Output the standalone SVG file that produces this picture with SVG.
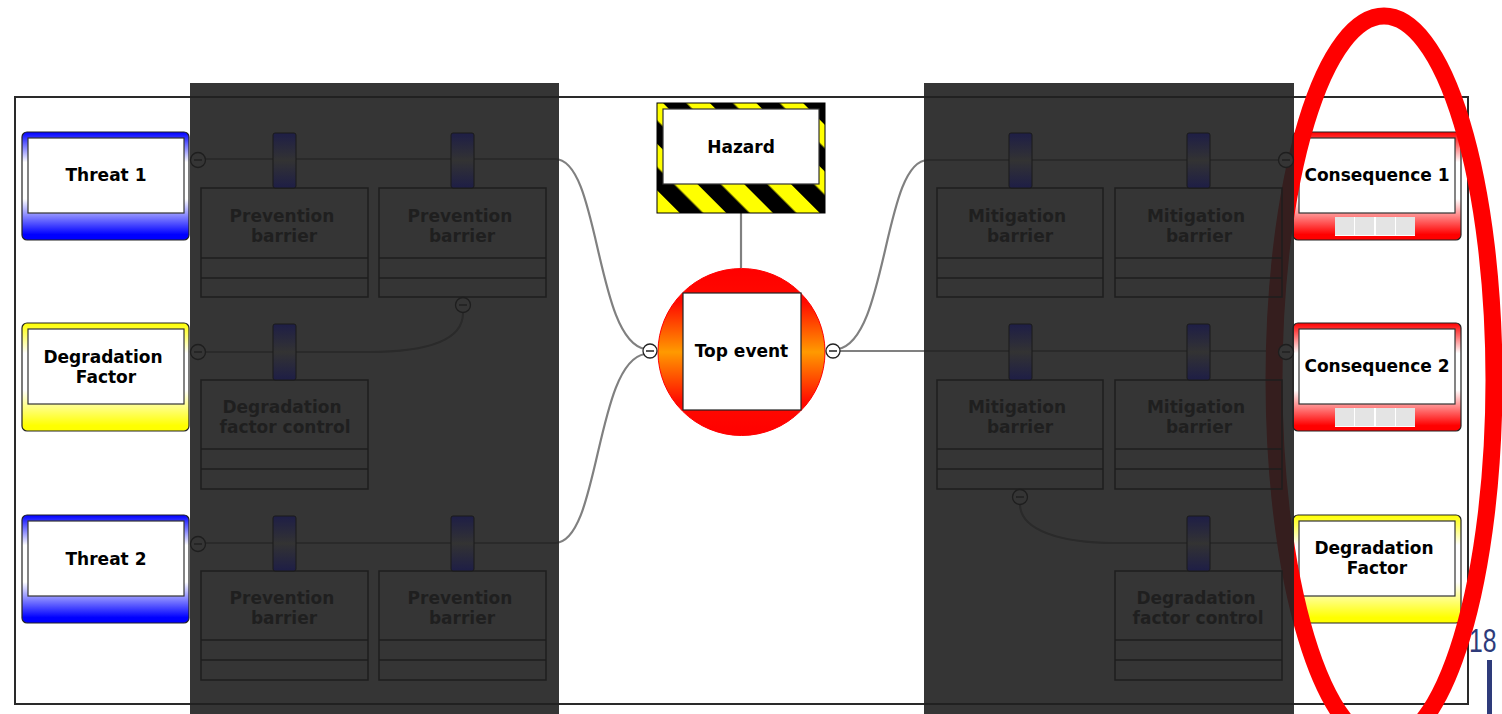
<svg xmlns="http://www.w3.org/2000/svg" width="1502" height="714" viewBox="0 0 1502 714">
<defs>
<linearGradient id="gBlue" x1="0" y1="0" x2="0" y2="1">
<stop offset="0" stop-color="#0000ff"/><stop offset="0.28" stop-color="#ffffff"/><stop offset="0.62" stop-color="#ffffff"/><stop offset="0.95" stop-color="#0000ff"/><stop offset="1" stop-color="#0000ff"/>
</linearGradient>
<linearGradient id="gYellow" x1="0" y1="0" x2="0" y2="1">
<stop offset="0" stop-color="#ffff00"/><stop offset="0.28" stop-color="#ffffff"/><stop offset="0.62" stop-color="#ffffff"/><stop offset="0.95" stop-color="#ffff00"/><stop offset="1" stop-color="#ffff00"/>
</linearGradient>
<linearGradient id="gRed" x1="0" y1="0" x2="0" y2="1">
<stop offset="0" stop-color="#ff0000"/><stop offset="0.28" stop-color="#ffffff"/><stop offset="0.62" stop-color="#ffffff"/><stop offset="0.95" stop-color="#ff0000"/><stop offset="1" stop-color="#ff0000"/>
</linearGradient>
<linearGradient id="gTop" x1="0" y1="0" x2="0" y2="1">
<stop offset="0" stop-color="#ff0000"/><stop offset="0.2" stop-color="#ff0a00"/><stop offset="0.5" stop-color="#ff9a00"/><stop offset="0.8" stop-color="#ff0a00"/><stop offset="1" stop-color="#ff0000"/>
</linearGradient>
<linearGradient id="gPillar" x1="0" y1="0" x2="0" y2="1">
<stop offset="0" stop-color="#1e1e46"/><stop offset="0.5" stop-color="#333333"/><stop offset="1" stop-color="#1e1e46"/>
</linearGradient>
<pattern id="hazard" width="33" height="33" patternUnits="userSpaceOnUse" patternTransform="rotate(-45)">
<rect x="0" y="0" width="33" height="33" fill="#ffff00"/>
<rect x="0" y="0" width="16.5" height="33" fill="#000000"/>
</pattern>
<style>
.t{font-family:"DejaVu Sans","Liberation Sans",sans-serif;font-weight:bold;font-size:17px;fill:#000;text-anchor:middle}
.bt{font-family:"DejaVu Sans","Liberation Sans",sans-serif;font-weight:bold;font-size:17px;fill:#1f1f1f;text-anchor:middle}
.outer{stroke:#222;stroke-width:1.2}
.inner{fill:#fff;stroke:#333;stroke-width:1.2}
.conn{fill:none;stroke:#808080;stroke-width:2.2}
.box{fill:none;stroke:#1e1e1e;stroke-width:1.5}
.pillar{fill:url(#gPillar);stroke:#1a1a1a;stroke-width:1}
.pc{fill:#353535;stroke:#1e1e1e;stroke-width:1.3}
.pm{stroke:#1e1e1e;stroke-width:1.3}
.lc{fill:#fff;stroke:#222;stroke-width:1.3}
.lm{stroke:#222;stroke-width:1.5}
.panel{fill:#212121;opacity:0.91}
.cell{fill:#e4e4e4}
</style>
</defs>
<rect x="0" y="0" width="1502" height="714" fill="#fff"/>
<rect id="frame" x="15" y="97" width="1453" height="607" fill="none" stroke="#2a2a2a" stroke-width="2"/>

<g id="connectors">
<path class="conn" d="M205 159 H555 C600 159 595 340 645 349"/>
<path class="conn" d="M205 543 H555 C600 543 595 362 645 354"/>
<path class="conn" d="M205 352 H368 C430 352 463 340 463 313"/>
<path class="conn" d="M838 349 C888 340 883 160 928 160 H1279"/>
<path class="conn" d="M840 351 H1279"/>
<path class="conn" d="M1020 504 C1020 530 1060 543 1115 543 H1293"/>
<path class="conn" d="M741 213 V268"/>
</g>

<g id="threat1">
<rect class="outer" x="22" y="132" width="167" height="108" rx="5" fill="url(#gBlue)"/>
<rect class="inner" x="28" y="138" width="156" height="75"/>
<text class="t" x="106" y="181">Threat 1</text>
</g>
<g id="degradation-factor-left">
<rect class="outer" x="22" y="323" width="167" height="108" rx="5" fill="url(#gYellow)"/>
<rect class="inner" x="28" y="329" width="156" height="75"/>
<text class="t" x="103" y="363">Degradation</text>
<text class="t" x="106" y="383">Factor</text>
</g>
<g id="threat2">
<rect class="outer" x="22" y="515" width="167" height="108" rx="5" fill="url(#gBlue)"/>
<rect class="inner" x="28" y="521" width="156" height="75"/>
<text class="t" x="106" y="565">Threat 2</text>
</g>

<g id="hazard-node">
<rect x="657" y="103" width="168" height="110" fill="url(#hazard)" stroke="#000" stroke-width="1"/>
<rect class="inner" x="663" y="109" width="156" height="75"/>
<text class="t" x="741" y="153">Hazard</text>
</g>
<g id="top-event">
<circle cx="741.5" cy="352" r="83.5" fill="url(#gTop)" stroke="#ff0000" stroke-width="1"/>
<rect x="683" y="293" width="118" height="117" fill="#fff" stroke="#222" stroke-width="1.2"/>
<text class="t" x="741.5" y="357">Top event</text>
</g>
<g id="toggle-left">
<circle class="lc" cx="650" cy="351" r="7"/><line class="lm" x1="646" y1="351" x2="654" y2="351"/>
</g>
<g id="toggle-right">
<circle class="lc" cx="833" cy="351" r="7"/><line class="lm" x1="829" y1="351" x2="837" y2="351"/>
</g>

<g id="consequence1">
<rect class="outer" x="1293" y="132" width="168" height="108" rx="5" fill="url(#gRed)"/>
<rect class="inner" x="1299" y="138" width="156" height="75"/>
<text class="t" x="1377" y="181">Consequence 1</text>
<rect x="1335" y="217" width="80" height="19" fill="#fff"/>
<rect class="cell" x="1335" y="217" width="19" height="18"/>
<rect class="cell" x="1355" y="217" width="19" height="18"/>
<rect class="cell" x="1376" y="217" width="19" height="18"/>
<rect class="cell" x="1396" y="217" width="19" height="18"/>
</g>
<g id="consequence2">
<rect class="outer" x="1293" y="323" width="168" height="108" rx="5" fill="url(#gRed)"/>
<rect class="inner" x="1299" y="329" width="156" height="75"/>
<text class="t" x="1377" y="372">Consequence 2</text>
<rect x="1335" y="408" width="80" height="19" fill="#fff"/>
<rect class="cell" x="1335" y="408" width="19" height="18"/>
<rect class="cell" x="1355" y="408" width="19" height="18"/>
<rect class="cell" x="1376" y="408" width="19" height="18"/>
<rect class="cell" x="1396" y="408" width="19" height="18"/>
</g>
<g id="degradation-factor-right">
<rect class="outer" x="1293" y="515" width="168" height="108" rx="5" fill="url(#gYellow)"/>
<rect class="inner" x="1299" y="521" width="156" height="75"/>
<text class="t" x="1374" y="554">Degradation</text>
<text class="t" x="1377" y="574">Factor</text>
</g>

<ellipse id="highlight" cx="1384" cy="380" rx="110" ry="364" fill="none" stroke="#ff0000" stroke-width="17"/>

<rect class="panel" x="190" y="83" width="369" height="631"/>
<rect class="panel" x="924" y="83" width="370" height="631"/>

<g id="prevention-barrier-1">
<rect class="box" x="201" y="188" width="167" height="109"/>
<line class="box" x1="201" y1="258" x2="368" y2="258"/><line class="box" x1="201" y1="278" x2="368" y2="278"/>
<rect class="pillar" x="273" y="133" width="23" height="55" rx="2"/>
<text class="bt" x="282" y="222">Prevention</text><text class="bt" x="284" y="242">barrier</text>
</g>
<g id="prevention-barrier-2">
<rect class="box" x="379" y="188" width="167" height="109"/>
<line class="box" x1="379" y1="258" x2="546" y2="258"/><line class="box" x1="379" y1="278" x2="546" y2="278"/>
<rect class="pillar" x="451" y="133" width="23" height="55" rx="2"/>
<text class="bt" x="460" y="222">Prevention</text><text class="bt" x="462" y="242">barrier</text>
</g>
<g id="degradation-control-left">
<rect class="box" x="201" y="380" width="167" height="109"/>
<line class="box" x1="201" y1="449" x2="368" y2="449"/><line class="box" x1="201" y1="469" x2="368" y2="469"/>
<rect class="pillar" x="273" y="324" width="23" height="56" rx="2"/>
<text class="bt" x="282" y="413">Degradation</text><text class="bt" x="285" y="433">factor control</text>
</g>
<g id="prevention-barrier-3">
<rect class="box" x="201" y="571" width="167" height="109"/>
<line class="box" x1="201" y1="640" x2="368" y2="640"/><line class="box" x1="201" y1="660" x2="368" y2="660"/>
<rect class="pillar" x="273" y="516" width="23" height="55" rx="2"/>
<text class="bt" x="282" y="604">Prevention</text><text class="bt" x="284" y="624">barrier</text>
</g>
<g id="prevention-barrier-4">
<rect class="box" x="379" y="571" width="167" height="109"/>
<line class="box" x1="379" y1="640" x2="546" y2="640"/><line class="box" x1="379" y1="660" x2="546" y2="660"/>
<rect class="pillar" x="451" y="516" width="23" height="55" rx="2"/>
<text class="bt" x="460" y="604">Prevention</text><text class="bt" x="462" y="624">barrier</text>
</g>

<g id="mitigation-barrier-1">
<rect class="box" x="937" y="188" width="166" height="109"/>
<line class="box" x1="937" y1="258" x2="1103" y2="258"/><line class="box" x1="937" y1="278" x2="1103" y2="278"/>
<rect class="pillar" x="1009" y="133" width="23" height="55" rx="2"/>
<text class="bt" x="1017" y="222">Mitigation</text><text class="bt" x="1020" y="242">barrier</text>
</g>
<g id="mitigation-barrier-2">
<rect class="box" x="1115" y="188" width="167" height="109"/>
<line class="box" x1="1115" y1="258" x2="1282" y2="258"/><line class="box" x1="1115" y1="278" x2="1282" y2="278"/>
<rect class="pillar" x="1187" y="133" width="23" height="55" rx="2"/>
<text class="bt" x="1196" y="222">Mitigation</text><text class="bt" x="1199" y="242">barrier</text>
</g>
<g id="mitigation-barrier-3">
<rect class="box" x="937" y="380" width="166" height="109"/>
<line class="box" x1="937" y1="449" x2="1103" y2="449"/><line class="box" x1="937" y1="469" x2="1103" y2="469"/>
<rect class="pillar" x="1009" y="324" width="23" height="56" rx="2"/>
<text class="bt" x="1017" y="413">Mitigation</text><text class="bt" x="1020" y="433">barrier</text>
</g>
<g id="mitigation-barrier-4">
<rect class="box" x="1115" y="380" width="167" height="109"/>
<line class="box" x1="1115" y1="449" x2="1282" y2="449"/><line class="box" x1="1115" y1="469" x2="1282" y2="469"/>
<rect class="pillar" x="1187" y="324" width="23" height="56" rx="2"/>
<text class="bt" x="1196" y="413">Mitigation</text><text class="bt" x="1199" y="433">barrier</text>
</g>
<g id="degradation-control-right">
<rect class="box" x="1115" y="571" width="167" height="109"/>
<line class="box" x1="1115" y1="640" x2="1282" y2="640"/><line class="box" x1="1115" y1="660" x2="1282" y2="660"/>
<rect class="pillar" x="1187" y="516" width="23" height="55" rx="2"/>
<text class="bt" x="1196" y="604">Degradation</text><text class="bt" x="1198" y="624">factor control</text>
</g>

<g id="panel-toggles">
<circle class="pc" cx="198" cy="160" r="7.5"/><line class="pm" x1="194" y1="160" x2="202" y2="160"/>
<circle class="pc" cx="198" cy="352" r="7.5"/><line class="pm" x1="194" y1="352" x2="202" y2="352"/>
<circle class="pc" cx="198" cy="544" r="7.5"/><line class="pm" x1="194" y1="544" x2="202" y2="544"/>
<circle class="pc" cx="463" cy="305" r="7.5"/><line class="pm" x1="459" y1="305" x2="467" y2="305"/>
<circle class="pc" cx="1286" cy="160" r="7.5"/><line class="pm" x1="1282" y1="160" x2="1290" y2="160"/>
<circle class="pc" cx="1286" cy="352" r="7.5"/><line class="pm" x1="1282" y1="352" x2="1290" y2="352"/>
<circle class="pc" cx="1020" cy="497" r="7.5"/><line class="pm" x1="1016" y1="497" x2="1024" y2="497"/>
</g>

<g id="page-number">
<text transform="translate(1469,652) scale(0.75,1)" font-family="Liberation Sans, Arial, sans-serif" font-size="33" fill="#2e3b7a">18</text>
<rect x="1487" y="660" width="5" height="54" fill="#2e3b7a"/>
</g>
</svg>
